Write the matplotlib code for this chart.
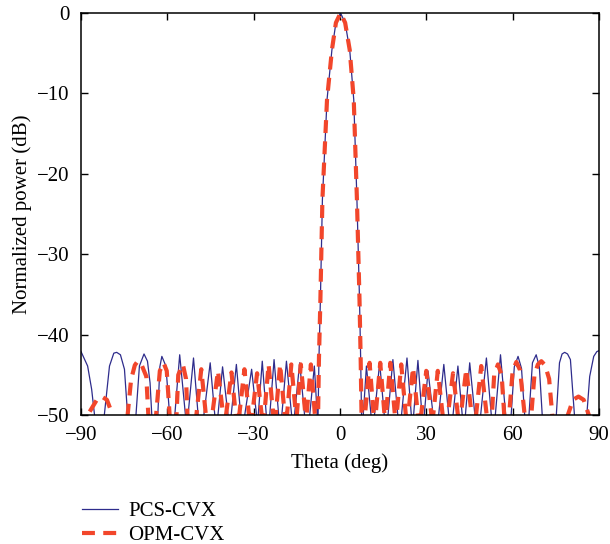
import matplotlib
matplotlib.use("Agg")
import matplotlib.pyplot as plt

# beam patterns (theta in deg, normalized power in dB)
# feet at -50 dB, nulls put at -58 dB (below the axis, clipped)
pcs_theta = [-90, -87.7, -86.3, -85.3, -83.6,
             -81.9, -80.1, -78.6, -77.6, -76.3, -74.9, -73.8, -72.3,
             -70.9, -69.7, -68.1, -66.9, -66.0, -65.4, -64.4,
             -63.3, -62.6, -61.9, -60.5, -59.2, -58.3,
             -57.4, -55.7, -53.7, -53.2,
             -52.8, -50.9, -49.3, -48.3,
             -47.3, -45.1, -43.5, -43.0,
             -42.4, -40.8, -38.9, -38.3,
             -37.8, -36.0, -34.5, -33.8,
             -33.1, -30.7, -29.0, -28.7,
             -28.4, -27.0, -25.6, -25.0,
             -24.4, -22.9, -21.3, -20.7,
             -20.2, -18.6, -16.8, -16.3,
             -15.8, -14.0, -12.3, -11.4,
             -10.5, -8.9, -7.9, -7.75,
             -7.6, -7.3, -6.8, -6.1, -4.5, -2.8, -1.4, 0.2, 1.8, 3.4, 4.8, 5.9, 6.8, 7.2, 7.5,
             7.8,
             8.1, 9.2, 10.8, 11.4,
             12.0, 13.8, 15.4, 16.0,
             16.7, 18.4, 20.1, 20.7,
             21.4, 23.3, 24.8, 25.2,
             25.6, 27.1, 28.5, 28.9,
             29.3, 30.6, 32.4, 33.3,
             34.3, 36.1, 37.8, 38.5,
             39.3, 41.0, 42.5, 43.0,
             43.6, 45.1, 46.9, 47.9,
             48.9, 50.9, 52.6, 53.3,
             54.0, 55.8, 57.6, 58.6,
             59.5, 60.6, 61.9, 63.1, 64.2, 64.9,
             65.7, 66.9, 68.2, 69.3, 70.3, 72.8,
             75.2, 76.3, 77.2, 78.1, 79.1, 80.1, 81.5, 83.6,
             85.8, 86.8, 88.2, 89.3, 90]
pcs_db = [-42.1, -43.9, -46.8, -50, -58,
          -50, -43.9, -42.3, -42.2, -42.5, -44.3, -50, -58,
          -50, -43.9, -42.4, -43.3, -46.0, -50, -58,
          -50, -44.0, -42.7, -43.9, -50, -58,
          -50, -42.5, -50, -58,
          -50, -42.9, -50, -58,
          -50, -43.5, -50, -58,
          -50, -44.0, -50, -58,
          -50, -43.7, -50, -58,
          -50, -44.3, -50, -58,
          -50, -43.3, -50, -58,
          -50, -43.1, -50, -58,
          -50, -43.3, -50, -58,
          -50, -43.5, -50, -58,
          -50, -43.9, -50, -58,
          -50, -43.0, -35.7, -23.2, -10.8, -4.6, -1.2, 0.0, -1.2, -4.6, -10.8, -23.2, -35.7, -43.0, -50,
          -58,
          -50, -43.9, -50, -58,
          -50, -43.5, -50, -58,
          -50, -43.1, -50, -58,
          -50, -42.9, -50, -58,
          -50, -43.2, -50, -58,
          -50, -44.5, -50, -58,
          -50, -43.7, -50, -58,
          -50, -43.9, -50, -58,
          -50, -43.5, -50, -58,
          -50, -42.9, -50, -58,
          -50, -42.5, -50, -58,
          -50, -44.0, -42.7, -44.2, -50, -58,
          -50, -43.5, -42.5, -44.0, -50, -58,
          -50, -43.5, -42.4, -42.2, -42.4, -43.1, -50, -58,
          -50, -45.2, -42.7, -42.1, -42.0]

opm_theta = [-90, -88.6,
             -87.7, -84.5, -82.8, -81.0, -79.0, -76.5,
             -73.8, -72.6, -71.3, -70.3, -69.0, -67.3, -66.6, -65.2,
             -63.9, -62.6, -61.3, -60.2, -59.2, -58.0,
             -56.8, -56.2, -54.6, -53.5, -53.0, -51.5,
             -49.9, -48.2, -46.6, -45.6,
             -44.4, -42.4, -40.6, -40.1,
             -39.6, -37.7, -36.2, -35.6,
             -35.0, -33.2, -31.6, -31.0,
             -30.5, -28.8, -27.2, -26.7,
             -26.3, -24.8, -23.2, -22.8,
             -22.3, -20.8, -19.2, -18.8,
             -18.4, -16.9, -15.3, -15.15,
             -15.0, -13.6, -12.0, -11.8,
             -11.6, -10.1, -8.7, -8.2,
             -7.6, -7.3, -6.8, -6.1, -4.5, -2.8, -1.4, 0.2, 1.8, 3.4, 4.8, 5.9, 6.8, 7.2, 7.5,
             8.1,
             8.7, 10.3, 11.7, 12.0,
             12.4, 14.0, 15.5, 15.8,
             16.0, 17.5, 19.1, 19.4,
             19.7, 21.3, 22.9, 23.3,
             23.7, 25.4, 27.1, 27.6,
             28.2, 30.0, 31.8, 32.1,
             32.4, 34.0, 35.7, 36.6,
             37.5, 39.3, 41.0, 41.5,
             42.0, 43.9, 45.8, 46.5,
             47.3, 49.1, 51.0, 51.9,
             52.8, 53.6, 54.9, 56.2, 57.1, 58.0,
             58.8, 60.0, 61.3, 62.6, 64.2, 65.4,
             66.5, 67.6, 68.8, 70.0, 71.3, 72.7, 73.8, 76.5,
             79.2, 81.0, 82.9, 84.7, 86.5, 88.5, 90]
opm_db = [-60, -58,
          -50, -48.1, -47.7, -48.1, -50, -58,
          -50, -45.6, -43.8, -43.3, -43.7, -45.2, -50, -58,
          -50, -44.5, -43.5, -44.5, -50, -58,
          -50, -45.0, -43.7, -45.5, -50, -58,
          -50, -44.3, -50, -58,
          -50, -44.5, -50, -58,
          -50, -44.7, -50, -58,
          -50, -44.3, -50, -58,
          -50, -44.8, -50, -58,
          -50, -43.7, -50, -58,
          -50, -43.7, -50, -58,
          -50, -43.7, -50, -58,
          -50, -43.7, -50, -58,
          -50, -43.7, -50, -58,
          -50, -43.0, -35.7, -23.2, -10.8, -4.6, -1.2, 0.0, -1.2, -4.6, -10.8, -23.2, -35.7, -43.0, -50,
          -58,
          -50, -43.5, -50, -58,
          -50, -43.5, -50, -58,
          -50, -43.5, -50, -58,
          -50, -43.7, -50, -58,
          -50, -44.1, -50, -58,
          -50, -44.5, -50, -58,
          -50, -44.5, -50, -58,
          -50, -44.8, -50, -58,
          -50, -44.3, -50, -58,
          -50, -43.9, -50, -58,
          -50, -45.0, -43.7, -45.0, -50, -58,
          -50, -44.6, -43.4, -44.4, -50, -58,
          -50, -45.0, -43.7, -43.3, -43.8, -45.5, -50, -58,
          -50, -48.1, -47.7, -48.1, -50, -58, -60]

xticks = [-90, -60, -30, 0, 30, 60, 90]
yticks = [0, -10, -20, -30, -40, -50]

plt.rcParams['font.family'] = ['Liberation Serif', 'DejaVu Serif']
plt.rcParams['font.size'] = 15

fig = plt.figure(figsize=(6.1, 5.44), dpi=100)
ax = fig.add_axes([0.1328, 0.237, 0.849, 0.739])

pcs_line, = ax.plot(pcs_theta, pcs_db, color='#2e2c8c', lw=0.9, label='PCS-CVX')
opm_line, = ax.plot(opm_theta, opm_db, color='#f2462b', lw=3.0, ls='--',
                    dashes=(3.1, 2.0), label='OPM-CVX')

ax.set_xlim(-90, 90)
ax.set_ylim(-50, 0)
ax.set_xticks(xticks)
ax.set_yticks(yticks)
ax.tick_params(direction='in', top=True, right=True, length=5, width=1, pad=8)
for s in ax.spines.values():
    s.set_linewidth(1.1)

ax.set_xlabel('Theta (deg)', labelpad=6)
ax.set_ylabel('Normalized power (dB)', labelpad=4)

fig.legend(handles=[pcs_line, opm_line], loc='upper left',
           bbox_to_anchor=(0.134, 0.078), frameon=False, borderpad=0,
           borderaxespad=0, handlelength=1.75, handletextpad=0.5,
           labelspacing=0.2)

plt.savefig('out.png', dpi=100)
plt.close()
